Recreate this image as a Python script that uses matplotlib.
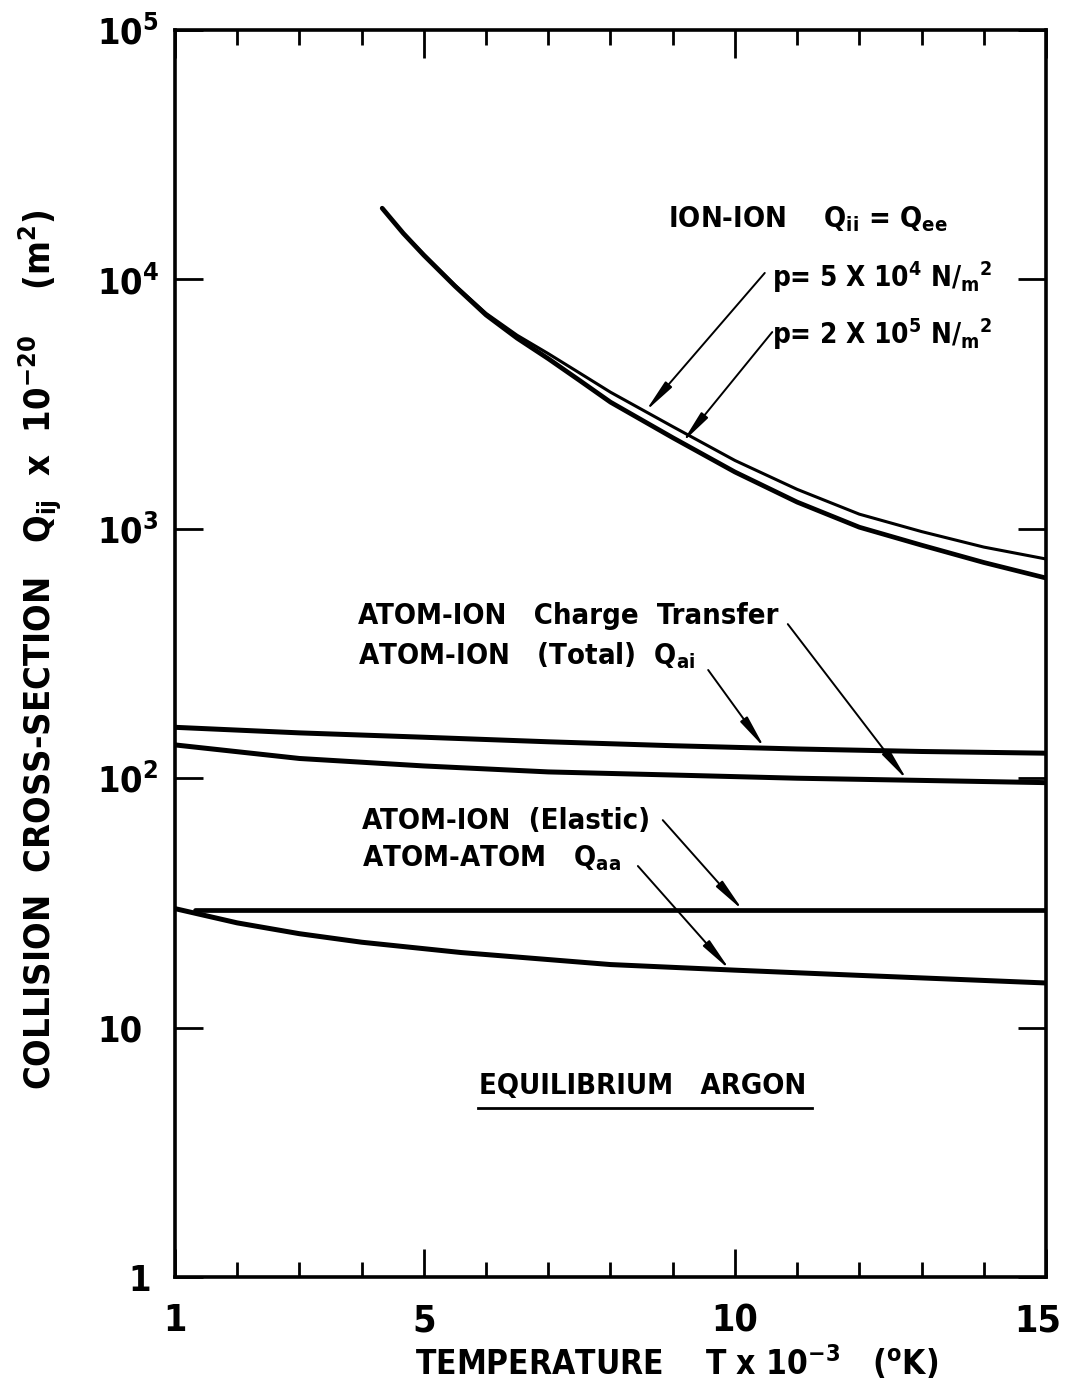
import numpy as np
import matplotlib
matplotlib.use('Agg')
import matplotlib.pyplot as plt
import matplotlib.transforms as mtransforms
from matplotlib.ticker import FixedLocator, NullFormatter

# temperature in units of 1000 K, cross-sections in units of 1e-20 m^2
T_ion = [4.33, 4.67, 5.0, 5.5, 6, 6.5, 7, 7.5, 8, 9, 10, 11, 12, 13, 14, 15]
q_ii_p5e4 = [19300, 15300, 12600, 9480, 7310, 5970, 5040, 4220, 3530,
             2570, 1880, 1440, 1145, 975, 845, 757]
q_ii_p2e5 = [19300, 15300, 12500, 9400, 7200, 5810, 4810, 3940, 3220,
             2320, 1690, 1280, 1015, 860, 733, 635]

T_ai = [1, 3, 5, 7, 9, 11, 13, 15]
q_ai_total = [160, 152, 146, 140, 135, 131, 128, 126]
q_ai_cx = [136, 120, 112, 106, 103, 100, 98, 96]

T_el = [1.32, 15]
q_ai_elastic = [29.5, 29.5]

T_aa = [1, 2, 3, 4, 5.6, 8, 10, 12, 15]
q_aa = [30, 26.3, 23.8, 22, 20, 17.9, 17, 16.2, 15.1]

x_ticks = [1, 5, 10, 15]
x_minor = [2, 3, 4, 6, 7, 8, 9, 11, 12, 13, 14]
y_ticks = [1, 10, 1e2, 1e3, 1e4, 1e5]
y_ticklabels = ['1', '10', '10$^2$', '10$^3$', '10$^4$', '10$^5$']

plt.rcParams['font.family'] = ['DejaVu Sans']
plt.rcParams['font.stretch'] = 'condensed'
plt.rcParams['font.weight'] = 'bold'
plt.rcParams['axes.labelweight'] = 'bold'
plt.rcParams['mathtext.fontset'] = 'custom'
plt.rcParams['mathtext.rm'] = 'DejaVu Sans:weight=bold:stretch=condensed'
plt.rcParams['mathtext.default'] = 'rm'


def on_curve(t, xs, ys):
    # point on a plotted curve (log interpolation) for arrow tips
    return t, 10 ** np.interp(t, xs, np.log10(ys))


def nudge(label, dx):
    label.set_transform(label.get_transform() +
                        mtransforms.ScaledTranslation(dx, 0, fig.dpi_scale_trans))


fig = plt.figure(figsize=(10.66, 13.84), dpi=100)
ax = fig.add_axes([0.1642, 0.0773, 0.8170, 0.9010])

ax.plot(T_ion, q_ii_p5e4, color='black', lw=2.2, solid_capstyle='round')
ax.plot(T_ion, q_ii_p2e5, color='black', lw=3.4, solid_capstyle='round')
ax.plot(T_ai, q_ai_total, color='black', lw=3.6)
ax.plot(T_ai, q_ai_cx, color='black', lw=3.6)
ax.plot(T_el, q_ai_elastic, color='black', lw=3.4, solid_capstyle='round')
ax.plot(T_aa, q_aa, color='black', lw=3.6)

ax.set_yscale('log')
ax.set_xlim(1, 15)
ax.set_ylim(1, 1e5)

ax.xaxis.set_major_locator(FixedLocator(x_ticks))
ax.xaxis.set_minor_locator(FixedLocator(x_minor))
ax.set_xticklabels([str(v) for v in x_ticks])
ax.yaxis.set_major_locator(FixedLocator(y_ticks))
ax.yaxis.set_minor_locator(FixedLocator([]))
ax.yaxis.set_minor_formatter(NullFormatter())
ax.set_yticklabels(y_ticklabels, ha='left')

ax.tick_params(axis='x', which='major', direction='in', top=True, length=20, width=2,
               labelsize=27, pad=19)
ax.tick_params(axis='x', which='minor', direction='in', top=True, length=11, width=2)
ax.tick_params(axis='y', which='major', direction='in', right=True, length=20, width=2,
               labelsize=26, pad=56)
for sp in ax.spines.values():
    sp.set_linewidth(2.6)

# the "1" sits closer to the axis, the "15" is pulled in from the edge
nudge(ax.get_yticklabels()[0], 0.31)
nudge(ax.get_xticklabels()[-1], -0.08)

ax.set_xlabel('TEMPERATURE    T x 10$^{-3}$   ($^{o}$K)', fontsize=24, ha='left')
ax.xaxis.set_label_coords(0.2755, -0.053)
ax.set_ylabel('COLLISION  CROSS-SECTION   Q$_{ij}$  x  10$^{-20}$    (m$^2$)', fontsize=26)
ax.yaxis.set_label_coords(-0.128, 0.503)

lbl = dict(fontsize=21, va='center', ha='left')
ax.text(8.92, 10 ** 4.24, 'ION-ION    Q$_{ii}$ = Q$_{ee}$', **lbl)
ax.text(10.6, 10 ** 4.01, 'p= 5 X 10$^4$ N/$_m$$^2$', fontsize=20, va='center', ha='left')
ax.text(10.6, 10 ** 3.78, 'p= 2 X 10$^5$ N/$_m$$^2$', fontsize=20, va='center', ha='left')
ax.text(3.94, 10 ** 2.65, 'ATOM-ION   Charge  Transfer', **lbl)
ax.text(3.94, 10 ** 2.49, 'ATOM-ION   (Total)  Q$_{ai}$', **lbl)
ax.text(4.0, 10 ** 1.83, 'ATOM-ION  (Elastic)', **lbl)
ax.text(4.0, 10 ** 1.68, 'ATOM-ATOM   Q$_{aa}$', **lbl)
ax.text(8.52, 10 ** 0.766, 'EQUILIBRIUM   ARGON', fontsize=21, va='center', ha='center')
ax.plot([5.87, 11.24], [10 ** 0.678, 10 ** 0.678], color='black', lw=2)

arrow = dict(arrowstyle='-|>,head_length=1.0,head_width=0.13', color='black', lw=1.4,
             mutation_scale=20, shrinkA=0, shrinkB=0)
notes = [
    ((10.48, 10 ** 4.026), on_curve(8.56, T_ion, q_ii_p5e4)),
    ((10.60, 10 ** 3.789), on_curve(9.15, T_ion, q_ii_p2e5)),
    ((10.85, 10 ** 2.618), on_curve(12.77, T_ai, q_ai_cx)),
    ((9.57, 10 ** 2.434), on_curve(10.48, T_ai, q_ai_total)),
    ((8.84, 10 ** 1.832), on_curve(10.13, T_el, q_ai_elastic)),
    ((8.44, 10 ** 1.648), on_curve(9.92, T_aa, q_aa)),
]
for start, tip in notes:
    ax.annotate('', xy=tip, xytext=start, arrowprops=arrow)

fig.savefig('out.png', dpi=100, facecolor='white')
